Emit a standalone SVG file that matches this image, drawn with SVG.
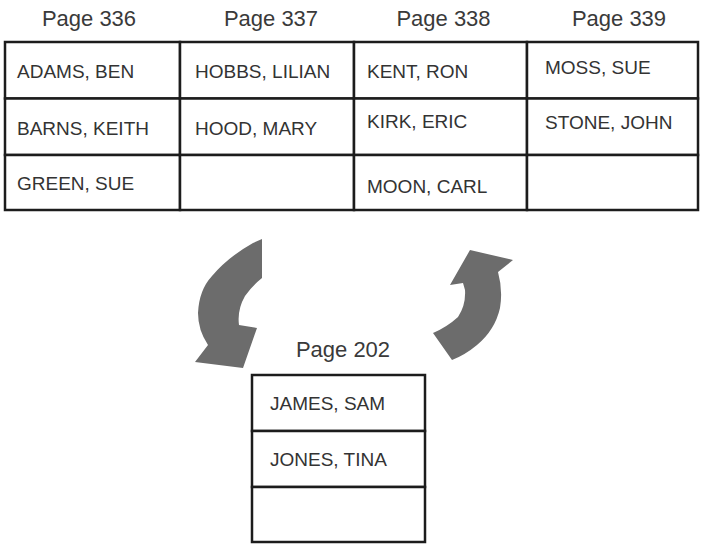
<svg xmlns="http://www.w3.org/2000/svg" width="701" height="544" viewBox="0 0 701 544">
<style>
.cell{fill:#fff;stroke:#1c1c1c;stroke-width:2.5}
.hdr{font-family:"Liberation Sans",Arial,sans-serif;font-size:22px;fill:#3a3a3a;text-anchor:middle}
.nm{font-family:"Liberation Sans",Arial,sans-serif;font-size:19px;fill:#333}
.arr{fill:#6c6c6c}
</style>
<rect width="701" height="544" fill="#fff"/>
<g id="page336">
<text class="hdr" x="89" y="26">Page 336</text>
<rect class="cell" x="5" y="42" width="175" height="56.5"/>
<rect class="cell" x="5" y="98.5" width="175" height="56.5"/>
<rect class="cell" x="5" y="155" width="175" height="55"/>
<text class="nm" x="17" y="78">ADAMS, BEN</text>
<text class="nm" x="17" y="135">BARNS, KEITH</text>
<text class="nm" x="17" y="190">GREEN, SUE</text>
</g>
<g id="page337">
<text class="hdr" x="271" y="26">Page 337</text>
<rect class="cell" x="180" y="42" width="174" height="56.5"/>
<rect class="cell" x="180" y="98.5" width="174" height="56.5"/>
<rect class="cell" x="180" y="155" width="174" height="55"/>
<text class="nm" x="195" y="78">HOBBS, LILIAN</text>
<text class="nm" x="195" y="135">HOOD, MARY</text>
</g>
<g id="page338">
<text class="hdr" x="443.5" y="26">Page 338</text>
<rect class="cell" x="354" y="42" width="173" height="56.5"/>
<rect class="cell" x="354" y="98.5" width="173" height="56.5"/>
<rect class="cell" x="354" y="155" width="173" height="55"/>
<text class="nm" x="367" y="78">KENT, RON</text>
<text class="nm" x="367" y="128">KIRK, ERIC</text>
<text class="nm" x="367" y="193">MOON, CARL</text>
</g>
<g id="page339">
<text class="hdr" x="619" y="26">Page 339</text>
<rect class="cell" x="527" y="42" width="171" height="56.5"/>
<rect class="cell" x="527" y="98.5" width="171" height="56.5"/>
<rect class="cell" x="527" y="155" width="171" height="55"/>
<text class="nm" x="545" y="74">MOSS, SUE</text>
<text class="nm" x="545" y="129">STONE, JOHN</text>
</g>
<g id="page202">
<text class="hdr" x="343" y="357">Page 202</text>
<rect class="cell" x="252" y="375" width="173" height="56"/>
<rect class="cell" x="252" y="431" width="173" height="56"/>
<rect class="cell" x="252" y="487" width="173" height="55"/>
<text class="nm" x="270" y="410">JAMES, SAM</text>
<text class="nm" x="270" y="466">JONES, TINA</text>
</g>
<g id="connectors">
<path class="arr" d="M262,239 L262,278 Q252,286 245,296 Q237,310 239,325 L257,328 L243,368 L195,362 L208,345 Q198,330 198,313 Q199,290 212,276 Q228,257 253,243 Z"/>
<path class="arr" d="M450,285 L470,250 L513,260 L498,272 Q503,290 500,308 Q495,330 477,345 Q465,355 452,360 L433,333 Q447,327 458,317 Q466,305 465,290 L463,283 Z"/>
</g>
</svg>
